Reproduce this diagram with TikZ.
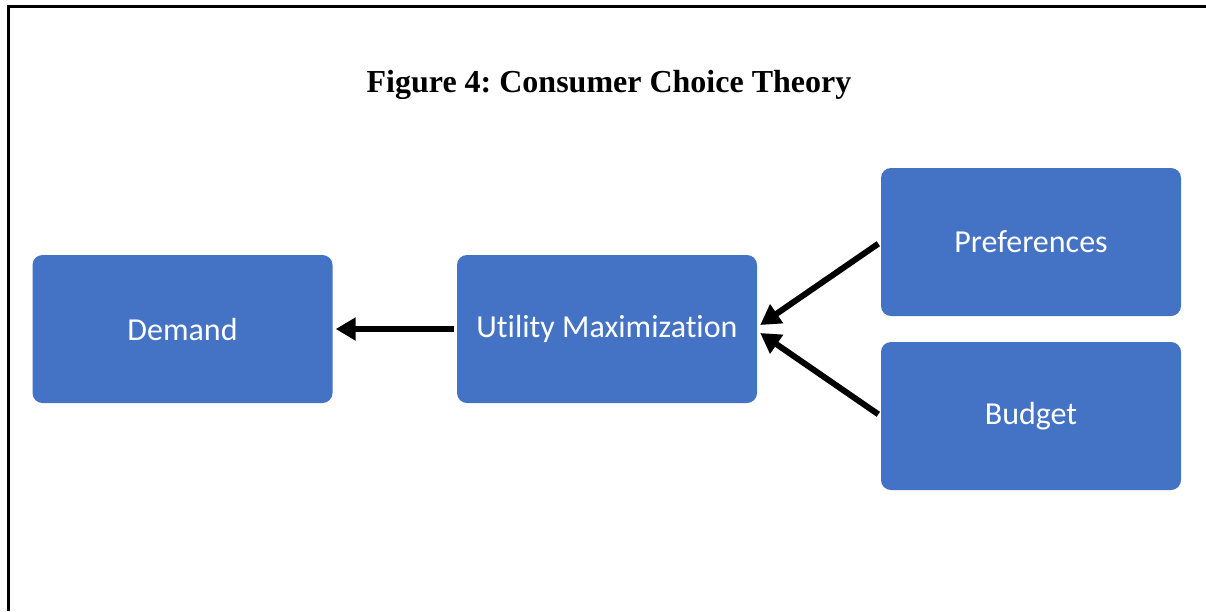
\documentclass[tikz,border=0pt]{standalone}
\usepackage{fontspec}
\setmainfont{Liberation Serif}
\newfontfamily\boxfont[Ligatures=NoCommon]{Carlito}
\usepackage{tikz}
\usetikzlibrary{arrows.meta}
\definecolor{boxblue}{HTML}{4472C4}
\frenchspacing

\begin{document}
\begin{tikzpicture}[x=1pt,y=-1pt,
        block/.style={fill=boxblue,rounded corners=10pt,minimum width=300pt,minimum height=148pt,inner sep=0pt,text=white,font=\boxfont\fontsize{32}{36}\selectfont},
        link/.style={->,>={Triangle[length=20pt,width=22pt]},line width=6pt}]
        \useasboundingbox(0,0)rectangle(1206,611);
        % Frame
        \draw[line width=3pt](8,611)--(8,6)--(1206,6);
        % Title
        \node[font=\bfseries\fontsize{32}{36}\selectfont](title)at(609,85){Figure 4: Consumer Choice Theory};
        % Blocks
        \node[block](demand)at(182.5,329){Demand};
        \node[block](util)at(607,329){Utility Maximization};
        \node[block](pref)at(1031,242){Preferences};
        \node[block](budget)at(1031,416){Budget};
        % Links
        \draw[link,shorten <=3pt,shorten >=3pt](util.west)--(demand.east);
        \draw[link,shorten <=3pt](pref.west)--([xshift=3pt,yshift=4pt]util.east);
        \draw[link,shorten <=3pt](budget.west)--([xshift=3pt,yshift=-4pt]util.east);
    \end{tikzpicture}
\end{document}
